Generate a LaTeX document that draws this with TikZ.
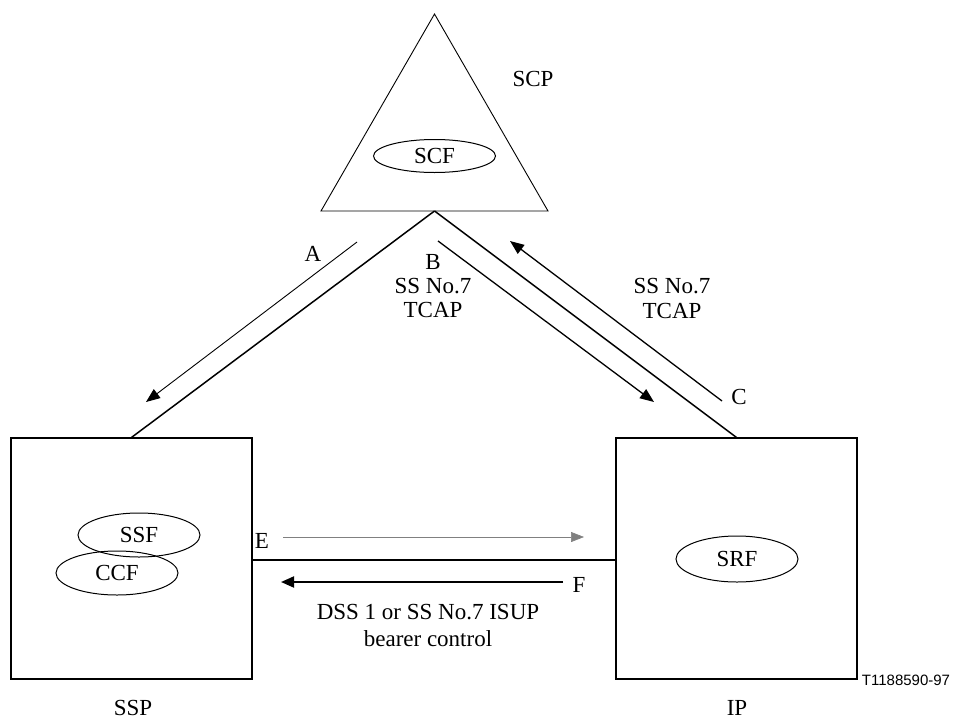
\documentclass[tikz,border=0pt]{standalone}
\usepackage{fontspec}
\setmainfont{Liberation Serif}
\newfontfamily\labelsans{Liberation Sans}
\usetikzlibrary{arrows.meta,shapes.geometric}
\begin{document}
\begin{tikzpicture}[x=1pt,y=-1pt,
  every node/.style={font=\fontsize{23}{27}\selectfont},
  box/.style={draw,line width=1.1pt,minimum width=241pt,minimum height=241pt,inner sep=0pt},
  func/.style={draw,ellipse,line width=1pt,minimum width=122pt,minimum height=40pt,inner sep=0pt},
  link/.style={line width=1.5pt},
  sig/.style={line width=1.3pt,-{Triangle[length=14pt,width=11pt]}},
  txt/.style={inner sep=0pt,anchor=center}]
\useasboundingbox (0,0) rectangle (958,720);
% SCP triangle
\coordinate (apex) at (434.5,14);
\coordinate (bl) at (321,211);
\coordinate (br) at (548,211);
\coordinate (scpbase) at (434.5,211);
\draw[line width=0.9pt] (apex) -- (br) -- (bl) -- cycle;
\node[txt] (scp) at (533,79) {SCP};
\node[func,minimum height=33pt] (scf) at (434.5,156) {SCF};
% boxes
\node[box] (ssp) at (131.5,558.5) {};
\node[box] (ip) at (736.5,558.5) {};
\node[txt] (ssplabel) at (133,708) {SSP};
\node[txt] (iplabel) at (737,708) {IP};
\node[txt,font=\labelsans\fontsize{15}{18}\selectfont] (tag) at (906,680) {T1188590-97};
% functions
\node[func,minimum height=44pt] (ssf) at (139,535) {SSF};
\node[func,minimum height=44pt] (ccf) at (117,573) {CCF};
\node[func,minimum height=46pt] (srf) at (737,559) {SRF};
% links
\draw[link] (ssp.north) -- (scpbase);
\draw[link] (ip.north) -- (scpbase);
\draw[link] ([yshift=-1.5pt]ssp.east) -- ([yshift=-1.5pt]ip.west);
% signalling arrows
\coordinate (a1) at (357,242); \coordinate (a2) at (146,402);
\coordinate (b1) at (438,241); \coordinate (b2) at (654,402);
\coordinate (c1) at (722,401); \coordinate (c2) at (510,241);
\draw[sig,line width=0.9pt] (a1) -- (a2);
\draw[sig] (b1) -- (b2);
\draw[sig] (c1) -- (c2);
\node[txt] (la) at (313,254) {A};
\node[txt] (lb) at (433,262) {B};
\node[txt] (lb2) at (433,286) {SS No.7};
\node[txt] (lb3) at (433,310) {TCAP};
\node[txt] (lc1) at (672,286) {SS No.7};
\node[txt] (lc2) at (672,311) {TCAP};
\node[txt] (lc) at (739,397) {C};
% bearer arrows
\coordinate (e1) at (283,537); \coordinate (e2) at (584,537);
\coordinate (f1) at (563,582); \coordinate (f2) at (281,582);
\draw[line width=0.6pt,gray,-{Triangle[length=13pt,width=10pt]}] (e1) -- (e2);
\draw[line width=1.9pt,-{Triangle[length=13pt,width=11pt]}] (f1) -- (f2);
\node[txt] (le) at (262,541) {E};
\node[txt] (lf) at (579,585) {F};
\node[txt] (ld1) at (428,612) {DSS 1 or SS No.7 ISUP};
\node[txt] (ld2) at (428,639) {bearer control};
\end{tikzpicture}
\end{document}
